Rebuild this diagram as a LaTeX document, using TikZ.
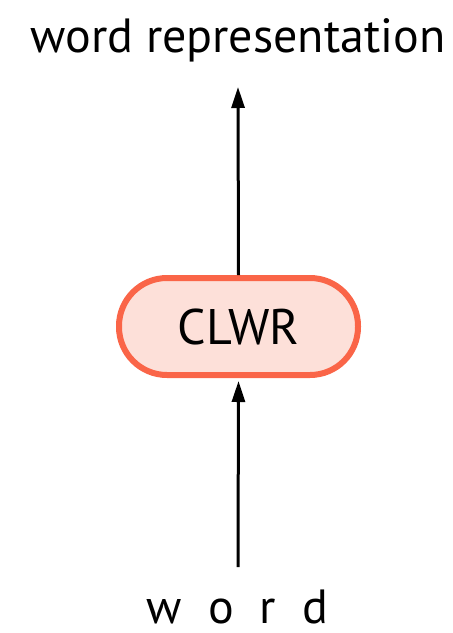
\documentclass[tikz,border=0pt]{standalone}
\usepackage{fontspec}
\setmainfont{PT Sans}
\usetikzlibrary{arrows.meta}
\definecolor{boxfill}{HTML}{FDE0D9}
\definecolor{boxline}{HTML}{FA6548}
\tikzset{
  label/.style={inner sep=0pt, anchor=base, font=\fontsize{48}{52}\selectfont},
  clwrbox/.style={draw=boxline, fill=boxfill, line width=6pt, rounded corners=48pt,
    minimum width=239pt, minimum height=97pt, inner sep=0pt,
    font=\fontsize{50}{54}\selectfont},
  flow/.style={line width=3pt, -{Triangle[width=13pt,length=21pt]}}
}
\begin{document}
\begin{tikzpicture}[x=1pt,y=-1pt]
  \useasboundingbox (0,0) rectangle (453,633);
  % output label and input word
  \node[label] (out) at (238,52) {word representation};
  \node[label] (in) at (237.5,623) {\spaceskip=26pt w o r d};
  % the module
  \node[clwrbox] (clwr) at (238.5,326.5) {CLWR};
  \coordinate (outtip) at (238,87);
  \coordinate (inbase) at (238,567);
  % connectors
  \draw[flow] (clwr.north) -- (outtip);
  \draw[flow] (inbase) -- ([yshift=-3pt]clwr.south);
\end{tikzpicture}
\end{document}
